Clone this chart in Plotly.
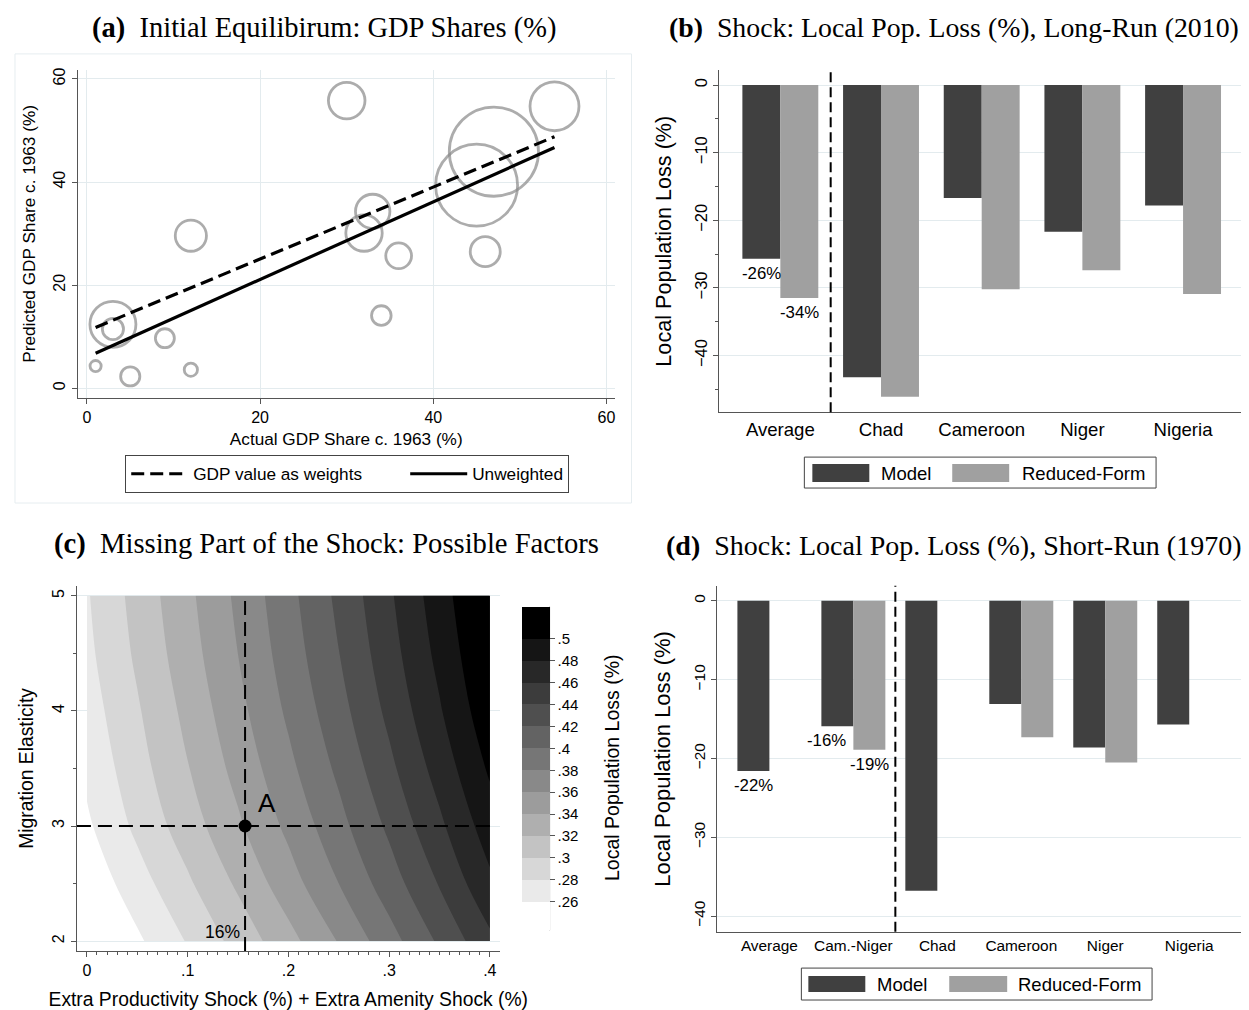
import plotly.graph_objects as go

# ---------------- (a) Initial equilibrium: GDP shares ----------------
actual_share = [30, 12, 3, 3, 9, 1, 5, 12, 33, 32, 36, 34, 45, 47, 46, 54]
predicted_share = [55.8, 29.6, 12.4, 11.5, 9.7, 4.3, 2.3, 3.6, 34.3, 30.1, 25.7, 14.1, 39.4, 45.9, 26.5, 54.7]
gdp_weight = [33.5, 24.3, 52.9, 11.2, 9.0, 3.1, 9.2, 4.4, 29.6, 33.1, 16.6, 9.6, 168.1, 198.9, 22.5, 60.0]
fit_x = [1, 54]
fit_weighted = [11.8, 48.8]
fit_unweighted = [6.8, 46.7]
fit_names = ["GDP value as weights", "Unweighted"]
share_ticks = [0, 20, 40, 60]

# ---------------- (b) Long-run (2010) ----------------
lr_countries = ["Average", "Chad", "Cameroon", "Niger", "Nigeria"]
lr_model = [-25.7, -43.2, -16.7, -21.7, -17.8]
lr_reduced = [-31.5, -46.1, -30.2, -27.4, -30.9]
lr_model_labels = ["-26%", "", "", "", ""]
lr_reduced_labels = ["-34%", "", "", "", ""]
lr_ticks = [0, -10, -20, -30, -40]

# ---------------- (d) Short-run (1970) ----------------
sr_countries = ["Average", "Cam.-Niger", "Chad", "Cameroon", "Niger", "Nigeria"]
sr_model = [-21.6, -15.9, -36.8, -13.1, -18.6, -15.7]
sr_reduced = [None, -18.9, None, -17.3, -20.5, None]
sr_model_labels = ["-22%", "-16%", "", "", "", ""]
sr_reduced_labels = ["", "-19%", "", "", "", ""]
sr_ticks = [0, -10, -20, -30, -40]

series_names = ["Model", "Reduced-Form"]

# ---------------- (c) Missing part of the shock ----------------
shock_grid = [0.0, 0.05, 0.10, 0.15, 0.20, 0.25, 0.30, 0.35, 0.40]
elasticity_grid = [2.0, 2.5, 3.0, 3.5, 4.0, 4.5, 5.0]
loss_grid = [
    [0.2315, 0.2565, 0.2815, 0.3072, 0.3332, 0.3612, 0.3919, 0.4232, 0.4555],
    [0.2456, 0.2713, 0.2969, 0.3232, 0.3512, 0.3800, 0.4103, 0.4414, 0.4759],
    [0.2566, 0.2845, 0.3103, 0.3368, 0.3646, 0.3935, 0.4238, 0.4560, 0.4903],
    [0.2645, 0.2922, 0.3190, 0.3465, 0.3750, 0.4040, 0.4352, 0.4680, 0.5030],
    [0.2704, 0.2978, 0.3256, 0.3541, 0.3834, 0.4127, 0.4447, 0.4780, 0.5136],
    [0.2753, 0.3035, 0.3315, 0.3601, 0.3896, 0.4196, 0.4518, 0.4855, 0.5205],
    [0.2782, 0.3072, 0.3354, 0.3641, 0.3939, 0.4245, 0.4568, 0.4910, 0.5255],
]
level_ticks = [0.26, 0.28, 0.30, 0.32, 0.34, 0.36, 0.38, 0.40, 0.42, 0.44, 0.46, 0.48, 0.50]
level_tick_text = [".26", ".28", ".3", ".32", ".34", ".36", ".38", ".4", ".42", ".44", ".46", ".48", ".5"]
shock_ticks = [0, 0.1, 0.2, 0.3, 0.4]
shock_tick_text = ["0", ".1", ".2", ".3", ".4"]
elasticity_ticks = [2, 3, 4, 5]
point_A = {"shock": 0.157, "elasticity": 3.0, "label": "A", "shock_label": "16%"}

# ---------------- styles / page geometry ----------------
PAGE_W, PAGE_H = 1249, 1010
OFF = 8                      # default body margin of the html page
FW, FH = PAGE_W - OFF, PAGE_H - OFF
FONT = "Liberation Sans, Arial, sans-serif"
SERIF = "Liberation Serif, Times New Roman, serif"
AXIS = "#555555"
GRID = "#e3ebee"
DARK = "#404040"
LIGHT = "#a0a0a0"
BUBBLE = "#8a8a8a"
BAND_COLORS = ["#ffffff", "#eaeaea", "#d7d7d7", "#c3c3c3", "#afafaf", "#9c9c9c", "#898989",
               "#767676", "#636363", "#4f4f4f", "#3c3c3c", "#282828", "#151515", "#000000"]


def px_x(p):
    return (p - OFF) / FW


def px_y(p):
    return (PAGE_H - p) / FH


def axis_style(**kw):
    base = dict(showline=True, linecolor=AXIS, linewidth=1.2, ticks="outside", ticklen=5,
                tickcolor=AXIS, tickwidth=1, zeroline=False, showgrid=False,
                tickfont=dict(size=16, color="black"))
    base.update(kw)
    return base


fig = go.Figure()

# ---- (a) bubbles + fit lines ----
fig.add_trace(go.Scatter(
    x=actual_share, y=predicted_share, mode="markers", showlegend=False,
    marker=dict(size=gdp_weight, sizemode="area", sizeref=0.05, color="rgba(0,0,0,0)",
                line=dict(color=BUBBLE, width=2.8)),
    xaxis="x", yaxis="y", hoverinfo="skip"))
# padding after the first legend entry reproduces the wide spacing of the original legend
fig.add_trace(go.Scatter(
    x=fit_x, y=fit_weighted, mode="lines", name=fit_names[0] + "\u00a0" * 8,
    line=dict(color="black", width=3.2, dash="13px,6px"), xaxis="x", yaxis="y"))
fig.add_trace(go.Scatter(
    x=fit_x, y=fit_unweighted, mode="lines", name=fit_names[1],
    line=dict(color="black", width=3.2), xaxis="x", yaxis="y"))

# ---- (b) long-run bars ----
BW_B = 0.377
fig.add_trace(go.Bar(x=lr_countries, y=lr_model, name=series_names[0], marker=dict(color=DARK, line=dict(width=0)),
                     width=BW_B, offset=-BW_B, xaxis="x2", yaxis="y2", showlegend=False))
fig.add_trace(go.Bar(x=lr_countries, y=lr_reduced, name=series_names[1], marker=dict(color=LIGHT, line=dict(width=0)),
                     width=BW_B, offset=0, xaxis="x2", yaxis="y2", showlegend=False))

# ---- (d) short-run bars ----
BW_D = 0.381
fig.add_trace(go.Bar(x=sr_countries, y=sr_model, name=series_names[0], marker=dict(color=DARK, line=dict(width=0)),
                     width=BW_D, offset=-BW_D, xaxis="x4", yaxis="y4", showlegend=False))
fig.add_trace(go.Bar(x=sr_countries, y=sr_reduced, name=series_names[1], marker=dict(color=LIGHT, line=dict(width=0)),
                     width=BW_D, offset=0, xaxis="x4", yaxis="y4", showlegend=False))

# ---- (c) contour ----
cb_top, cb_bot = 606, 930
fig.add_trace(go.Contour(
    x=shock_grid, y=elasticity_grid, z=loss_grid, xaxis="x3", yaxis="y3",
    autocontour=False,
    contours=dict(start=level_ticks[0], end=level_ticks[-1], size=0.02, coloring="fill", showlines=False),
    line=dict(width=0),
    colorscale=[[i / (len(BAND_COLORS) - 1), c] for i, c in enumerate(BAND_COLORS)],
    zmin=0.234, zmax=0.529, showlegend=False, hoverinfo="skip",
    colorbar=dict(x=px_x(522), xanchor="left", y=px_y(cb_bot), yanchor="bottom",
                  len=(cb_bot - cb_top) / FH, lenmode="fraction", thickness=28, thicknessmode="pixels",
                  outlinewidth=0, xpad=0, ypad=0, ticks="outside", ticklen=5, tickcolor=AXIS,
                  tickvals=level_ticks, ticktext=level_tick_text, tickfont=dict(size=15, color="black"))))
fig.add_trace(go.Scatter(
    x=[point_A["shock"]], y=[point_A["elasticity"]], mode="markers", showlegend=False,
    marker=dict(size=13, color="black"), xaxis="x3", yaxis="y3", hoverinfo="skip"))

# ---------------- axes ----------------
fig.update_layout(
    xaxis=axis_style(domain=[px_x(78), px_x(615)], range=[-1.04, 60.93], tickvals=share_ticks, showgrid=True,
                     gridcolor=GRID, anchor="y",
                     title=dict(text="Actual GDP Share c. 1963 (%)", font=dict(size=17.2), standoff=7)),
    yaxis=axis_style(domain=[px_y(396.7), px_y(68)], range=[-1.88, 61.76], tickvals=share_ticks, showgrid=True,
                     gridcolor=GRID, tickangle=-90, anchor="x",
                     title=dict(text="Predicted GDP Share c. 1963 (%)", font=dict(size=17.2), standoff=11)),
    xaxis2=axis_style(domain=[px_x(720), 1.0], range=[-0.605, 4.645], type="category", anchor="y2",
                      ticks="", tickfont=dict(size=18.6, color="black")),
    yaxis2=axis_style(domain=[px_y(411), px_y(68.3)], range=[-48.38, 2.2], tickvals=lr_ticks, anchor="x2",
                      tickangle=-90, showgrid=True, gridcolor=GRID, tickfont=dict(size=16.5, color="black"),
                      minor=dict(tickmode="linear", tick0=-5, dtick=10, ticks="outside", ticklen=3,
                                 tickcolor=AXIS, showgrid=False),
                      title=dict(text="Local Population Loss (%)", font=dict(size=21.6), standoff=14)),
    xaxis3=axis_style(domain=[px_x(77), px_x(500)], range=[-0.0099, 0.4097], tickvals=shock_ticks,
                      ticktext=shock_tick_text, anchor="y3",
                      minor=dict(tickmode="linear", tick0=0, dtick=0.01, ticks="outside", ticklen=3,
                                 tickcolor=AXIS, showgrid=False),
                      title=dict(text="Extra Productivity Shock (%) + Extra Amenity Shock (%)",
                                 font=dict(size=19.3), standoff=15)),
    yaxis3=axis_style(domain=[px_y(951), px_y(585)], range=[1.913, 5.087], tickvals=elasticity_ticks,
                      anchor="x3", tickangle=-90, showgrid=True, gridcolor=GRID,
                      minor=dict(tickmode="linear", tick0=2.5, dtick=1, ticks="outside", ticklen=3,
                                 tickcolor=AXIS, showgrid=False),
                      title=dict(text="Migration Elasticity", font=dict(size=19.3), standoff=11)),
    xaxis4=axis_style(domain=[px_x(718), 1.0], range=[-0.619, 5.70], type="category", anchor="y4",
                      ticks="", tickfont=dict(size=15.4, color="black")),
    yaxis4=axis_style(domain=[px_y(931.7), px_y(585)], range=[-42.0, 1.9], tickvals=sr_ticks, anchor="x4",
                      tickangle=-90, showgrid=True, gridcolor=GRID, tickfont=dict(size=15.4, color="black"),
                      title=dict(text="Local Population Loss (%)", font=dict(size=22), standoff=14)),
)

# ---------------- legend of panel (a) ----------------
fig.update_layout(
    legend=dict(orientation="h", xanchor="center", yanchor="middle", x=px_x(347.5), y=px_y(473),
                bordercolor="#444444", borderwidth=1, bgcolor="white", font=dict(size=17.2),
                itemwidth=57),
)

# ---------------- annotations ----------------
ann = []
titles = [
    ("(a)", "Initial Equilibirum: GDP Shares (%)", 90, 26, 28.5),
    ("(b)", "Shock: Local Pop. Loss (%), Long-Run (2010)", 668, 26, 27.8),
    ("(c)", "Missing Part of the Shock: Possible Factors", 52, 543, 28.6),
    ("(d)", "Shock: Local Pop. Loss (%), Short-Run (1970)", 665, 545, 28.0),
]
for tag, txt, x0, yc, fs in titles:
    ann.append(dict(text="<b>" + tag + "</b>\u00a0\u00a0" + txt, xref="paper", yref="paper",
                    x=px_x(x0), y=px_y(yc), xanchor="left", yanchor="middle", showarrow=False,
                    font=dict(family=SERIF, size=fs, color="black")))

LABEL_XSHIFT = {("sr_model", 1): -11}


def bar_labels(key, labels, values, offset_center, xref, yref):
    out = []
    for i, (lab, v) in enumerate(zip(labels, values)):
        if lab and v is not None:
            out.append(dict(text=lab, x=i + offset_center, y=v, xref=xref, yref=yref, showarrow=False,
                            xanchor="center", yanchor="top", yshift=-3, xshift=LABEL_XSHIFT.get((key, i), 0),
                            font=dict(size=16.8, color="black")))
    return out


ann += bar_labels("lr_model", lr_model_labels, lr_model, -BW_B / 2, "x2", "y2")
ann += bar_labels("lr_reduced", lr_reduced_labels, lr_reduced, BW_B / 2, "x2", "y2")
ann += bar_labels("sr_model", sr_model_labels, sr_model, -BW_D / 2, "x4", "y4")
ann += bar_labels("sr_reduced", sr_reduced_labels, sr_reduced, BW_D / 2, "x4", "y4")

ann.append(dict(text=point_A["label"], x=point_A["shock"], y=point_A["elasticity"], xref="x3", yref="y3",
                showarrow=False, xanchor="left", yanchor="bottom", xshift=11, yshift=6,
                font=dict(size=26, color="black")))
ann.append(dict(text=point_A["shock_label"], x=point_A["shock"], y=min(elasticity_grid), xref="x3", yref="y3",
                showarrow=False, xanchor="right", yanchor="bottom", xshift=-3, yshift=-3,
                font=dict(size=17.5, color="black")))
# colorbar title
ann.append(dict(text="Local Population Loss (%)", xref="paper", yref="paper", x=px_x(613), y=px_y(767),
                xanchor="center", yanchor="middle", textangle=-90, showarrow=False,
                font=dict(size=19.5, color="black")))

# ---------------- shapes ----------------
shapes = [
    dict(type="rect", xref="paper", yref="paper", x0=px_x(15), x1=px_x(632), y0=px_y(502), y1=px_y(52),
         line=dict(color="#e6edf0", width=1), layer="below"),
    dict(type="line", xref="x2", yref="y2 domain", x0=0.5, x1=0.5, y0=0, y1=1,
         line=dict(color="black", width=2, dash="10px,5px")),
    dict(type="line", xref="x4", yref="y4 domain", x0=1.5, x1=1.5, y0=0, y1=1,
         line=dict(color="black", width=2, dash="10px,5px")),
    dict(type="line", xref="x3", yref="y3", x0=-0.0099, x1=max(shock_grid),
         y0=point_A["elasticity"], y1=point_A["elasticity"],
         line=dict(color="black", width=2, dash="14px,7px")),
    dict(type="line", xref="x3", yref="y3", x0=point_A["shock"], x1=point_A["shock"],
         y0=1.913, y1=max(elasticity_grid),
         line=dict(color="black", width=2, dash="14px,7px")),
    dict(type="line", xref="paper", yref="paper", x0=px_x(550), x1=px_x(550), y0=px_y(cb_bot), y1=px_y(cb_top),
         line=dict(color=AXIS, width=1)),
]

# legends of the bar panels (box, swatches, labels)
bar_legends = [
    dict(box=(805, 1157, 456, 487), sw=[(813, 870), (953, 1010)], sw_y=(463, 481), txt=[880, 1021], yc=472),
    dict(box=(802, 1153, 968, 1000), sw=[(809, 866), (950, 1008)], sw_y=(976, 992), txt=[876, 1017], yc=984),
]
for lg in bar_legends:
    bx0, bx1, by0, by1 = lg["box"]
    shapes.append(dict(type="rect", xref="paper", yref="paper", x0=px_x(bx0), x1=px_x(bx1),
                       y0=px_y(by1), y1=px_y(by0), line=dict(color="#444444", width=1), fillcolor="white"))
    for (sx0, sx1), col, tx, name in zip(lg["sw"], [DARK, LIGHT], lg["txt"], series_names):
        shapes.append(dict(type="rect", xref="paper", yref="paper", x0=px_x(sx0), x1=px_x(sx1),
                           y0=px_y(lg["sw_y"][1]), y1=px_y(lg["sw_y"][0]), line=dict(width=0), fillcolor=col))
        ann.append(dict(text=name, xref="paper", yref="paper", x=px_x(tx), y=px_y(lg["yc"]),
                        xanchor="left", yanchor="middle", showarrow=False, font=dict(size=18.5, color="black")))

fig.update_layout(shapes=shapes, annotations=ann)

fig.update_layout(
    width=FW, height=FH, margin=dict(l=0, r=0, t=0, b=0),
    paper_bgcolor="white", plot_bgcolor="white",
    font=dict(family=FONT, color="black"),
)

fig.write_html("out.html")
